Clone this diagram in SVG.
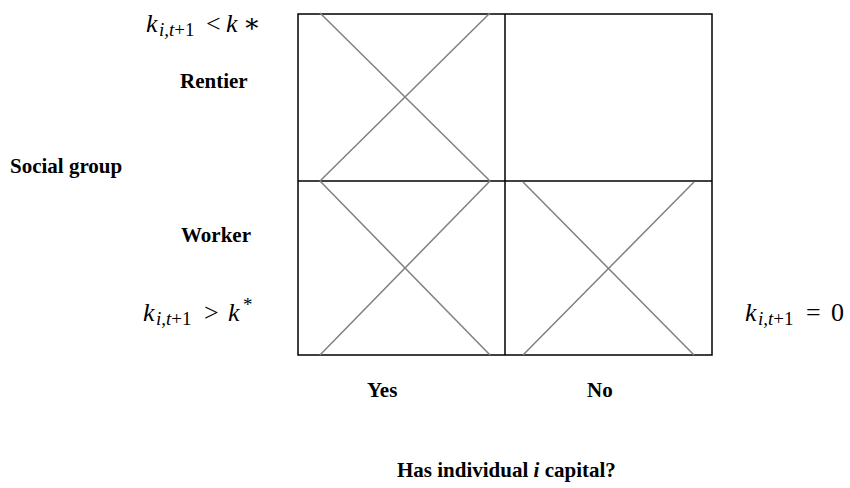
<svg xmlns="http://www.w3.org/2000/svg" width="850" height="488" viewBox="0 0 850 488">
<style>
.lbl{font-family:"Liberation Serif","Times New Roman",serif;font-weight:bold;font-size:21px;fill:#000}
.math{font-family:"Liberation Serif","DejaVu Serif",serif;font-size:26px;fill:#000}
.it{font-style:italic}
.sub{font-size:19px}
.grid{fill:none;stroke:#000;stroke-width:1.5}
.x{stroke:#808080;stroke-width:1.5}
</style>
<rect width="850" height="488" fill="#fff"/>
<g id="grid">
<rect class="grid" x="298" y="14" width="414" height="341"/>
<line class="grid" x1="505" y1="14" x2="505" y2="355"/>
<line class="grid" x1="298" y1="181" x2="712" y2="181"/>
</g>
<g id="connectors">
<line class="x" x1="320" y1="13" x2="490" y2="181"/>
<line class="x" x1="490" y1="13" x2="320" y2="181"/>
<line class="x" x1="320" y1="181" x2="490" y2="355"/>
<line class="x" x1="490" y1="181" x2="320" y2="355"/>
<line class="x" x1="523" y1="182" x2="694" y2="355"/>
<line class="x" x1="694" y1="182" x2="523" y2="355"/>
</g>
<g id="eq-top">
<text class="math"><tspan class="it" x="146" y="32">k</tspan><tspan class="sub it" x="159" y="36">i,t</tspan><tspan class="sub">+1</tspan><tspan x="206" y="32">&lt;</tspan><tspan class="it" x="226" y="32">k</tspan><tspan x="243" y="32">∗</tspan></text>
</g>
<g id="rentier"><text class="lbl" x="180" y="88">Rentier</text></g>
<g id="social-group"><text class="lbl" x="10" y="173">Social group</text></g>
<g id="worker"><text class="lbl" x="181" y="242">Worker</text></g>
<g id="eq-worker">
<text class="math"><tspan class="it" x="143" y="321">k</tspan><tspan class="sub it" x="156" y="325">i,t</tspan><tspan class="sub">+1</tspan><tspan x="204" y="321">&gt;</tspan><tspan class="it" x="228" y="321">k</tspan><tspan class="sub" x="243" y="311">*</tspan></text>
</g>
<g id="eq-zero">
<text class="math"><tspan class="it" x="745" y="321">k</tspan><tspan class="sub it" x="758" y="325">i,t</tspan><tspan class="sub">+1</tspan><tspan x="806" y="321">=</tspan><tspan x="831" y="321">0</tspan></text>
</g>
<g id="yes"><text class="lbl" x="367" y="397">Yes</text></g>
<g id="no"><text class="lbl" x="587" y="397">No</text></g>
<g id="axis-x"><text class="lbl" x="397" y="477">Has individual <tspan font-style="italic">i</tspan> capital?</text></g>
</svg>
